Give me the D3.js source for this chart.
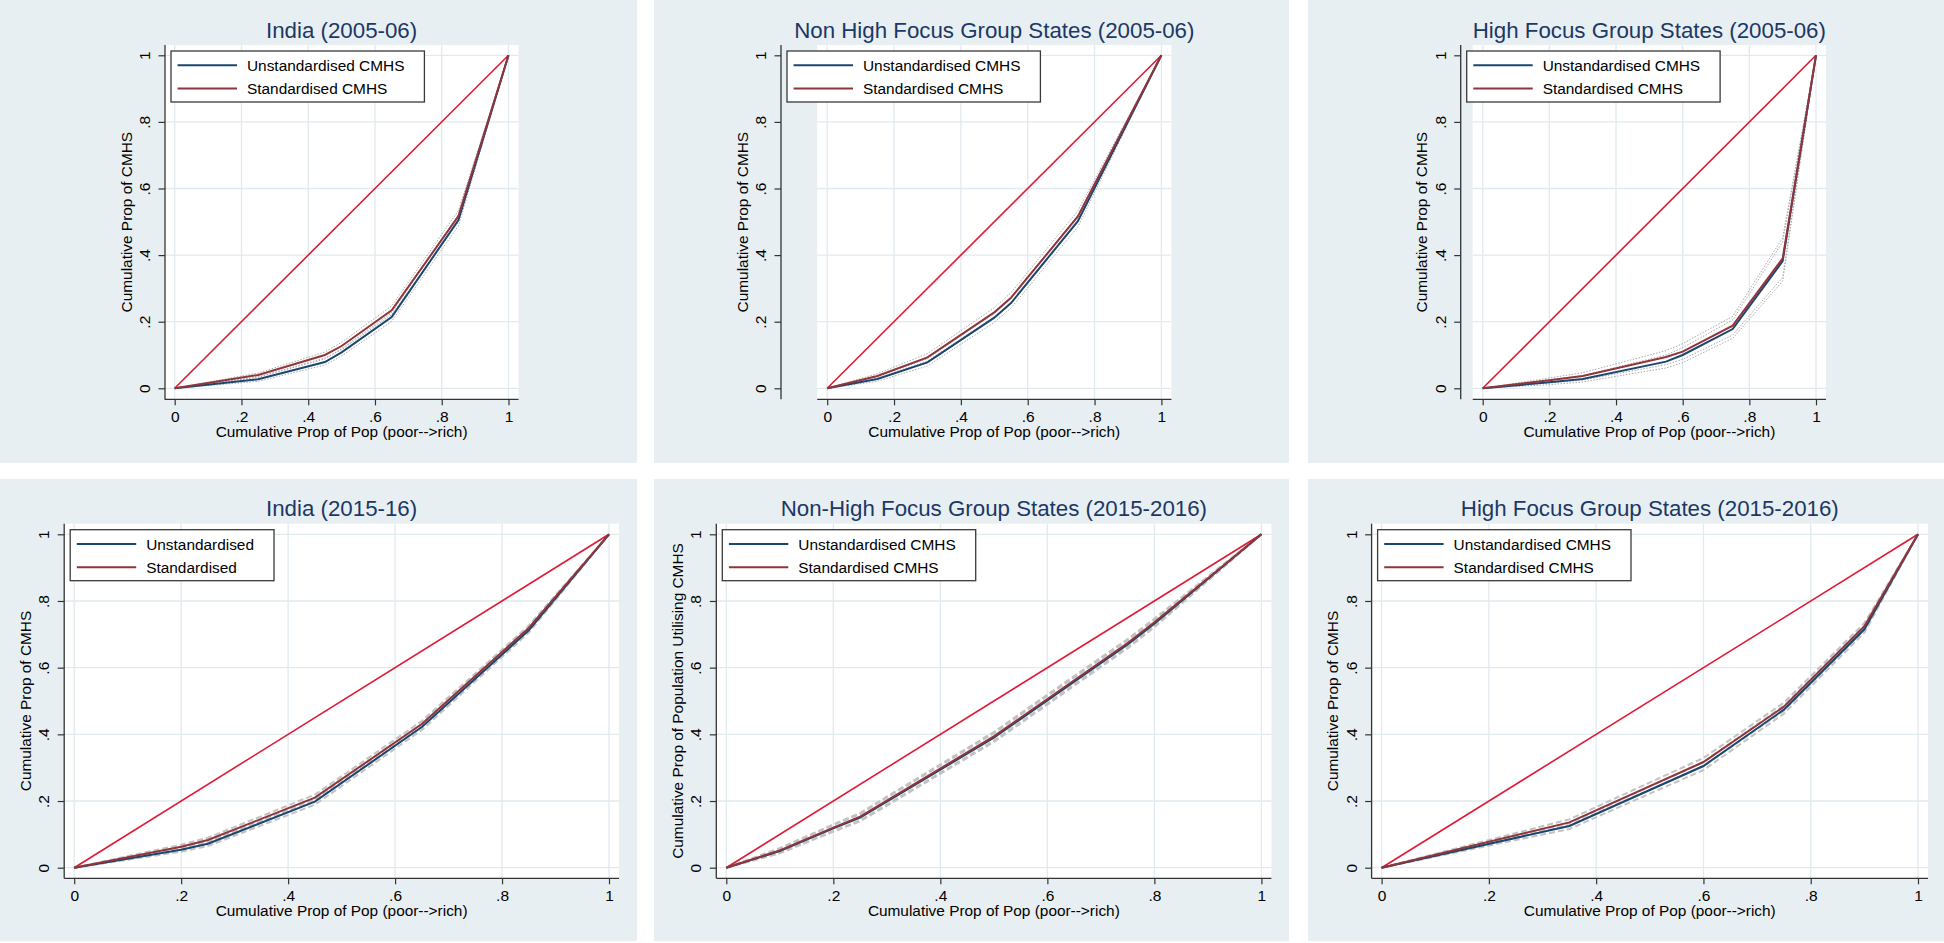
<!DOCTYPE html>
<html><head><meta charset="utf-8">
<script src="https://cdn.jsdelivr.net/npm/d3@7"></script>
<style>
body{margin:0;background:#fff}
svg{display:block}
text{font-family:"Liberation Sans",Arial,Helvetica,sans-serif}
</style>
</head><body>
<svg id="c" width="1944" height="943"></svg>
<script>
// ---------- text ----------
const titles = ["India (2005-06)", "Non High Focus Group States (2005-06)", "High Focus Group States (2005-06)",
                "India (2015-16)", "Non-High Focus Group States (2015-2016)", "High Focus Group States (2015-2016)"];
const yTitles = ["Cumulative Prop of CMHS", "Cumulative Prop of CMHS", "Cumulative Prop of CMHS",
                 "Cumulative Prop of CMHS", "Cumulative Prop of Population Utilising CMHS", "Cumulative Prop of CMHS"];
const xTitle = "Cumulative Prop of Pop (poor-->rich)";
const legendUnstd = ["Unstandardised CMHS", "Unstandardised CMHS", "Unstandardised CMHS",
                     "Unstandardised", "Unstandardised CMHS", "Unstandardised CMHS"];
const legendStd = ["Standardised CMHS", "Standardised CMHS", "Standardised CMHS",
                   "Standardised", "Standardised CMHS", "Standardised CMHS"];
const tickValues = [0, 0.2, 0.4, 0.6, 0.8, 1];
const tickLabels = ["0", ".2", ".4", ".6", ".8", "1"];
const equalityPop = [0, 1];
const equalityShare = [0, 1];

// ---------- Panel 1: India 2005-06 ----------
const p1Pop      = [0, 0.25, 0.45, 0.50, 0.65, 0.85, 1];
const p1Unstd    = [0, 0.027, 0.079, 0.108, 0.214, 0.505, 1];
const p1Std      = [0, 0.040, 0.100, 0.127, 0.234, 0.517, 1];
const p1UnstdLo  = [0, 0.021, 0.070, 0.097, 0.201, 0.488, 1];
const p1UnstdHi  = [0, 0.033, 0.088, 0.119, 0.227, 0.522, 1];
const p1StdLo    = [0, 0.034, 0.091, 0.116, 0.221, 0.500, 1];
const p1StdHi    = [0, 0.046, 0.109, 0.138, 0.247, 0.534, 1];

// ---------- Panel 2: Non High Focus 2005-06 ----------
const p2Pop      = [0, 0.15, 0.30, 0.50, 0.55, 0.75, 1];
const p2Unstd    = [0, 0.028, 0.078, 0.212, 0.256, 0.502, 1];
const p2Std      = [0, 0.037, 0.093, 0.228, 0.272, 0.516, 1];
const p2UnstdLo  = [0, 0.021, 0.067, 0.198, 0.241, 0.485, 1];
const p2UnstdHi  = [0, 0.035, 0.089, 0.226, 0.271, 0.519, 1];
const p2StdLo    = [0, 0.030, 0.082, 0.214, 0.257, 0.499, 1];
const p2StdHi    = [0, 0.044, 0.104, 0.242, 0.287, 0.533, 1];

// ---------- Panel 3: High Focus 2005-06 ----------
const p3Pop      = [0, 0.20, 0.30, 0.55, 0.60, 0.75, 0.90, 1];
const p3Unstd    = [0, 0.018, 0.028, 0.080, 0.100, 0.178, 0.382, 1];
const p3Std      = [0, 0.024, 0.037, 0.094, 0.110, 0.188, 0.390, 1];
const p3UnstdLo  = [0, 0.011, 0.019, 0.061, 0.077, 0.150, 0.322, 1];
const p3UnstdHi  = [0, 0.026, 0.038, 0.100, 0.122, 0.205, 0.440, 1];
const p3StdLo    = [0, 0.016, 0.025, 0.071, 0.087, 0.160, 0.333, 1];
const p3StdHi    = [0, 0.031, 0.047, 0.113, 0.134, 0.216, 0.452, 1];

// ---------- Panel 4: India 2015-16 ----------
const p4Pop      = [0, 0.20, 0.25, 0.45, 0.65, 0.85, 1];
const p4Unstd    = [0, 0.054, 0.072, 0.198, 0.422, 0.712, 1];
const p4Std      = [0, 0.063, 0.083, 0.210, 0.431, 0.719, 1];
const p4UnstdLo  = [0, 0.048, 0.065, 0.189, 0.413, 0.705, 1];
const p4UnstdHi  = [0, 0.060, 0.079, 0.207, 0.431, 0.719, 1];
const p4StdLo    = [0, 0.057, 0.076, 0.201, 0.422, 0.712, 1];
const p4StdHi    = [0, 0.069, 0.090, 0.219, 0.440, 0.726, 1];

// ---------- Panel 5: Non-High Focus 2015-2016 ----------
const p5Pop      = [0, 0.10, 0.20, 0.25, 0.30, 0.50, 0.60, 0.75, 0.80, 1];
const p5Unstd    = [0, 0.050, 0.118, 0.150, 0.198, 0.390, 0.502, 0.670, 0.732, 1];
const p5Std      = [0, 0.052, 0.120, 0.153, 0.201, 0.394, 0.506, 0.674, 0.736, 1];
const p5UnstdLo  = [0, 0.043, 0.108, 0.139, 0.186, 0.377, 0.489, 0.658, 0.721, 1];
const p5UnstdHi  = [0, 0.057, 0.128, 0.161, 0.210, 0.403, 0.515, 0.682, 0.743, 1];
const p5StdLo    = [0, 0.045, 0.110, 0.142, 0.189, 0.381, 0.493, 0.662, 0.725, 1];
const p5StdHi    = [0, 0.059, 0.130, 0.164, 0.213, 0.407, 0.519, 0.686, 0.747, 1];

// ---------- Panel 6: High Focus 2015-2016 ----------
const p6Pop      = [0, 0.35, 0.60, 0.75, 0.90, 1];
const p6Unstd    = [0, 0.125, 0.305, 0.474, 0.715, 1];
const p6Std      = [0, 0.136, 0.317, 0.483, 0.724, 1];
const p6UnstdLo  = [0, 0.116, 0.293, 0.462, 0.705, 1];
const p6UnstdHi  = [0, 0.134, 0.317, 0.486, 0.725, 1];
const p6StdLo    = [0, 0.127, 0.305, 0.471, 0.714, 1];
const p6StdHi    = [0, 0.145, 0.329, 0.495, 0.734, 1];

const panelData = [
  {pop: p1Pop, unstd: p1Unstd, std: p1Std, ci: [p1UnstdLo, p1UnstdHi, p1StdLo, p1StdHi]},
  {pop: p2Pop, unstd: p2Unstd, std: p2Std, ci: [p2UnstdLo, p2UnstdHi, p2StdLo, p2StdHi]},
  {pop: p3Pop, unstd: p3Unstd, std: p3Std, ci: [p3UnstdLo, p3UnstdHi, p3StdLo, p3StdHi]},
  {pop: p4Pop, unstd: p4Unstd, std: p4Std, ci: [p4UnstdLo, p4UnstdHi, p4StdLo, p4StdHi]},
  {pop: p5Pop, unstd: p5Unstd, std: p5Std, ci: [p5UnstdLo, p5UnstdHi, p5StdLo, p5StdHi]},
  {pop: p6Pop, unstd: p6Unstd, std: p6Std, ci: [p6UnstdLo, p6UnstdHi, p6StdLo, p6StdHi]}
];

// ---------- layout ----------
const cols = [[0, 637], [654, 1289], [1308, 1944]];
const rows = [
  {top: 0,   bottom: 463, whiteTop: 45,    y1: 55.3,  y0: 388.3, axisY: 399.3},
  {top: 479, bottom: 941, whiteTop: 523.7, y1: 534.3, y0: 867.7, axisY: 878.3}
];
const layouts = [
  {col: 0, row: 0, axisX: 165,    x0: 174.7,  x1: 508.5},
  {col: 1, row: 0, axisX: 781,    x0: 827.2,  x1: 1161.4},
  {col: 2, row: 0, axisX: 1460.7, x0: 1482.7, x1: 1816},
  {col: 0, row: 1, axisX: 64.2,   x0: 74.2,   x1: 609},
  {col: 1, row: 1, axisX: 716.3,  x0: 726.3,  x1: 1261.4},
  {col: 2, row: 1, axisX: 1371.6, x0: 1381.6, x1: 1918}
];

const NAVY = "#1a476f", MAROON = "#90353b", RED = "#e01a35", TITLE = "#1b3866";
const BG = "#e8eff2", GRID = "#e1eaee";
const svg = d3.select("#c");
svg.append("rect").attr("width", 1944).attr("height", 943).attr("fill", "#fff");

layouts.forEach((L, i) => {
  const R = rows[L.row];
  const [cl, cr] = cols[L.col];
  const d = panelData[i];
  const g = svg.append("g");
  const x = d3.scaleLinear().domain([0, 1]).range([L.x0, L.x1]);
  const y = d3.scaleLinear().domain([0, 1]).range([R.y0, R.y1]);
  const wl = L.x0 - 10, wr = L.x1 + 10;

  g.append("rect").attr("x", cl).attr("y", R.top).attr("width", cr - cl).attr("height", R.bottom - R.top).attr("fill", BG);
  g.append("rect").attr("x", wl).attr("y", R.whiteTop).attr("width", wr - wl).attr("height", R.axisY - R.whiteTop).attr("fill", "#fff");

  // grid
  g.selectAll(".gx").data(tickValues).join("line")
    .attr("x1", v => x(v)).attr("x2", v => x(v)).attr("y1", R.whiteTop).attr("y2", R.axisY)
    .attr("stroke", GRID).attr("stroke-width", 1.3);
  g.selectAll(".gy").data(tickValues).join("line")
    .attr("x1", wl).attr("x2", wr).attr("y1", v => y(v)).attr("y2", v => y(v))
    .attr("stroke", GRID).attr("stroke-width", 1.3);

  // axes
  const xAxis = d3.axisBottom(x).tickValues(tickValues).tickFormat((v, k) => tickLabels[k]).tickSize(6).tickPadding(6);
  const gx = g.append("g").attr("transform", `translate(0,${R.axisY})`).call(xAxis);
  gx.select(".domain").remove();
  gx.append("line").attr("x1", wl).attr("x2", wr).attr("stroke", "#333").attr("stroke-width", 1.3);
  gx.selectAll(".tick line").attr("stroke", "#333").attr("stroke-width", 1.2);
  gx.selectAll(".tick text").attr("font-size", 15.5).attr("fill", "#000").attr("font-family", "Liberation Sans, Arial, sans-serif").attr("dy", "0.71em");

  const yAxis = d3.axisLeft(y).tickValues(tickValues).tickFormat((v, k) => tickLabels[k]).tickSize(6.5).tickPadding(0);
  const gy = g.append("g").attr("transform", `translate(${L.axisX},0)`).call(yAxis);
  gy.select(".domain").remove();
  gy.append("line").attr("y1", R.whiteTop).attr("y2", R.axisY).attr("stroke", "#333").attr("stroke-width", 1.3);
  gy.selectAll(".tick line").attr("stroke", "#333").attr("stroke-width", 1.2);
  gy.selectAll(".tick text").attr("font-size", 15.5).attr("fill", "#000").attr("font-family", "Liberation Sans, Arial, sans-serif")
    .attr("x", null).attr("dy", null).attr("text-anchor", "middle")
    .attr("transform", "translate(-15,0) rotate(-90)");

  // axis titles
  g.append("text").attr("x", (wl + wr) / 2).attr("y", R.axisY + 38).attr("text-anchor", "middle")
    .attr("font-size", 15.4).attr("fill", "#000").text(xTitle);
  g.append("text").attr("transform", `translate(${L.axisX - 33.5},${(R.whiteTop + R.axisY) / 2}) rotate(-90)`)
    .attr("text-anchor", "middle").attr("font-size", 15.4).attr("fill", "#000").text(yTitles[i]);

  // title
  g.append("text").attr("x", (wl + wr) / 2).attr("y", R.whiteTop - 7.5).attr("text-anchor", "middle")
    .attr("font-size", 22.3).attr("fill", TITLE).text(titles[i]);

  // lines
  const clip = "clip" + i;
  g.append("clipPath").attr("id", clip).append("rect").attr("x", wl).attr("y", R.whiteTop).attr("width", wr - wl).attr("height", R.axisY - R.whiteTop);
  const pg = g.append("g").attr("clip-path", `url(#${clip})`);
  const line = d3.line().x(p => x(p[0])).y(p => y(p[1]));
  const pts = (xs, ys) => xs.map((v, k) => [v, ys[k]]);
  const topRow = L.row === 0;
  d.ci.forEach(arr => {
    pg.append("path").attr("d", line(pts(d.pop, arr))).attr("fill", "none")
      .attr("stroke", topRow ? "#a9a9a9" : "#c2c2c2")
      .attr("stroke-width", topRow ? 1 : 2)
      .attr("stroke-dasharray", topRow ? "1.5,1.5" : "6,3");
  });
  pg.append("path").attr("d", line(pts(equalityPop, equalityShare))).attr("fill", "none").attr("stroke", RED).attr("stroke-width", 1.6);
  pg.append("path").attr("d", line(pts(d.pop, d.unstd))).attr("fill", "none").attr("stroke", NAVY).attr("stroke-width", 2);
  pg.append("path").attr("d", line(pts(d.pop, d.std))).attr("fill", "none").attr("stroke", MAROON).attr("stroke-width", 2);

  // legend
  const lx = L.axisX + 6, ly = R.whiteTop + 6;
  const lg = g.append("g");
  const box = lg.append("rect").attr("x", lx).attr("y", ly).attr("height", 51).attr("fill", "#fff").attr("stroke", "#3a3a3a").attr("stroke-width", 1.3);
  const items = [[legendUnstd[i], NAVY], [legendStd[i], MAROON]];
  let maxW = 0;
  items.forEach((it, k) => {
    const cy = ly + 14.3 + k * 23.3;
    lg.append("line").attr("x1", lx + 6.6).attr("x2", lx + 66).attr("y1", cy).attr("y2", cy).attr("stroke", it[1]).attr("stroke-width", 2);
    const t = lg.append("text").attr("x", lx + 76).attr("y", cy + 5.5).attr("font-size", 15.4).attr("fill", "#000").text(it[0]);
    maxW = Math.max(maxW, t.node().getComputedTextLength());
  });
  box.attr("width", 76 + maxW + 20);
});
</script>
</body></html>
